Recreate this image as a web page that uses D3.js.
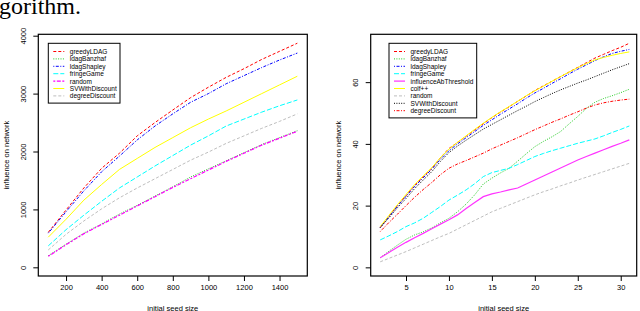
<!DOCTYPE html>
<html>
<head>
<meta charset="utf-8">
<script src="https://cdn.jsdelivr.net/npm/d3@7"></script>
<style>
body { margin:0; background:#fff; }
svg text { font-family: "Liberation Sans", Arial, sans-serif; fill:#000; }
</style>
</head>
<body>
<div id="chart"></div>
<script>
// left panel data
var seedLeft = [100,200,300,400,500,600,700,800,900,1000,1100,1200,1300,1400,1500];
var greedyLeft   = [604,990,1370,1710,1970,2270,2500,2717,2930,3110,3280,3430,3590,3730,3870];
var banzhafLeft  = [200,400,590,750,920,1070,1230,1390,1560,1700,1840,1980,2120,2240,2360];
var shapleyLeft  = [590,960,1320,1650,1920,2200,2440,2650,2850,3000,3170,3310,3450,3580,3700];
var fringeLeft   = [370,650,900,1140,1370,1560,1750,1930,2110,2270,2440,2560,2680,2790,2890];
var randomLeft   = [190,390,580,740,900,1060,1220,1380,1530,1680,1830,1970,2110,2230,2350];
var svDiscLeft   = [520,830,1160,1430,1690,1880,2070,2240,2410,2560,2700,2850,3000,3150,3300];
var degDiscLeft  = [300,570,800,1010,1200,1370,1530,1690,1850,1990,2140,2270,2400,2520,2650];
var xTicksLeft = [200,400,600,800,1000,1200,1400];
var yTicksLeft = [0,1000,2000,3000,4000];

// right panel data
var seedRight = [2,3,4,5,6,7,8,9,10,11,12,13,14,15,16,17,18,19,20,21,22,23,24,25,26,27,28,29,30,31];
var greedyRight  = [12.9,16.5,20,23.2,26.5,29.3,32,35.5,38.5,40.5,42.5,44.5,46.5,48.5,50.3,52,53.8,55.5,57.3,58.8,60.3,61.8,63.3,64.8,66.3,67.8,69,70.2,71.3,72.6];
var banzhafRight = [3.1,5.2,7.2,9.1,10.5,11.5,12.8,14.4,15.9,18,20.5,23.5,27,28.9,30.6,32.1,34.4,36.8,39.1,40.8,42.3,44,46.5,48.9,51.5,53.5,54.7,55.6,56.6,57.7];
var shapleyRight = [12.9,16.3,19.8,23,26.2,29,31.8,35,37.8,40,42,44,46,47.8,49.6,51.3,53,54.8,56.5,58,59.6,61.1,62.7,64.2,65.6,67,68.2,69.3,70,70.6];
var fringeRight  = [8.9,10.2,11.6,13.2,14.4,15.9,17.8,19.7,21.8,23.4,25.1,27.1,29.4,30.7,31.4,32.1,33.3,34.6,35.9,36.9,37.8,38.6,39.4,40.2,40.9,41.6,42.6,43.7,44.7,45.8];
var abThreshRight= [3.1,4.8,6.5,8.1,9.6,11,12.5,14,15.4,17,19.1,21,22.9,23.8,24.4,25.1,25.7,27,28.3,29.6,30.9,32.2,33.5,34.8,35.9,37,38.1,39.2,40.2,41.3];
var colfRight    = [13.2,16.8,20.3,23.6,26.8,29.6,32.3,35.5,38.3,40.5,42.6,44.7,46.7,48.6,50.4,52.1,53.8,55.6,57.2,58.7,60.3,61.8,63.3,64.7,66,67.2,68,68.7,69.3,69.8];
var randomRight  = [1.8,2.9,4,5.1,6.3,7.5,8.7,9.9,11,12.4,13.8,15.2,16.6,18,19.1,20.2,21.3,22.4,23.5,24.5,25.4,26.4,27.3,28.3,29.2,30.1,31,31.9,32.8,33.7];
var svDiscRight  = [12.9,16,19.3,22.3,25.5,28.3,31,34.3,37.2,39.3,41.2,43,44.8,46.3,47.8,49.3,50.8,52.2,53.7,55,56.3,57.5,58.6,59.7,60.7,61.8,62.9,64,65,66];
var degDiscRight = [11.6,14.5,17.2,20,22.7,25.2,27.5,30,32.1,33.5,34.6,35.8,37,38.4,39.6,40.8,42,43.3,44.6,45.8,47,48.1,49.3,50.4,51.6,52.6,53.3,53.8,54.2,54.5];
var xTicksRight = [5,10,15,20,25,30];
var yTicksRight = [0,20,40,60];

var dash = {solid:null, dashed:"3,2", dotted:"1,1.4", dotdash:"1,1.5,3,1.5", longdash:"5,2", twodash:"2,1.5,4,1.5"};

var svg = d3.select("#chart").append("svg")
  .attr("width", 640).attr("height", 311);

// caption fragment cut off at the top
svg.append("text")
  .attr("x", -1).attr("y", 14)
  .style("font-family", "'Liberation Serif', 'Times New Roman', serif")
  .style("font-size", "24px")
  .text("gorithm.");

function drawPanel(opt) {
  var x = d3.scaleLinear().domain(opt.xDomain).range([opt.left, opt.right]);
  var y = d3.scaleLinear().domain(opt.yDomain).range([opt.bottom, opt.top]);
  var g = svg.append("g");

  var line = d3.line().x((d, i) => x(opt.xs[i])).y(d => y(d));
  opt.series.forEach(function(s) {
    g.append("path")
      .attr("d", line(s.values))
      .attr("fill", "none")
      .attr("stroke", s.color)
      .attr("stroke-width", s.width || 1)
      .attr("stroke-dasharray", dash[s.style]);
  });

  g.append("rect")
    .attr("x", opt.left).attr("y", opt.top)
    .attr("width", opt.right - opt.left).attr("height", opt.bottom - opt.top)
    .attr("fill", "none").attr("stroke", "#000").attr("stroke-width", 1.2);

  var xAxis = g.append("g")
    .attr("transform", `translate(0, ${opt.bottom})`)
    .call(d3.axisBottom(x).tickValues(opt.xTicks).tickSize(5).tickPadding(4).tickFormat(d3.format("d")));
  xAxis.select(".domain").remove();
  xAxis.selectAll("text").style("font-size", "7.5px").style("font-family", "'Liberation Sans', Arial, sans-serif");

  var yAxis = g.append("g")
    .attr("transform", `translate(${opt.left}, 0)`)
    .call(d3.axisLeft(y).tickValues(opt.yTicks).tickSize(5).tickFormat(d3.format("d")));
  yAxis.select(".domain").remove();
  yAxis.selectAll("text")
    .attr("x", null).attr("dy", null)
    .attr("transform", "translate(-15,0) rotate(-90)")
    .attr("text-anchor", "middle")
    .attr("dominant-baseline", "central")
    .style("font-size", "7.5px").style("font-family", "'Liberation Sans', Arial, sans-serif");

  g.append("text")
    .attr("transform", `translate(${opt.left - 32}, ${(opt.top + opt.bottom) / 2}) rotate(-90)`)
    .attr("text-anchor", "middle")
    .attr("dominant-baseline", "central")
    .style("font-size", "7.5px")
    .text("influence on network");

  g.append("text")
    .attr("x", (opt.left + opt.right) / 2).attr("y", 311)
    .attr("text-anchor", "middle")
    .style("font-size", "7.5px")
    .text("initial seed size");

  // legend
  var lg = g.append("g");
  lg.append("rect")
    .attr("x", opt.legend.x).attr("y", opt.legend.y)
    .attr("width", opt.legend.w).attr("height", 8 + opt.series.length * 7.4)
    .attr("fill", "#fff").attr("stroke", "#000").attr("stroke-width", 1);
  opt.series.forEach(function(s, i) {
    var ly = opt.legend.y + 8.2 + i * 7.4;
    lg.append("line")
      .attr("x1", opt.legend.x + 5).attr("x2", opt.legend.x + 16)
      .attr("y1", ly).attr("y2", ly)
      .attr("stroke", s.color).attr("stroke-width", s.width || 1)
      .attr("stroke-dasharray", dash[s.style]);
    lg.append("text")
      .attr("x", opt.legend.x + 21.5).attr("y", ly)
      .attr("dominant-baseline", "central")
      .style("font-size", "6.5px")
      .text(s.name);
  });
}

drawPanel({
  left: 38.3, right: 307.3, top: 34.3, bottom: 276,
  xDomain: [44, 1556], yDomain: [-150, 4024],
  xs: seedLeft, xTicks: xTicksLeft, yTicks: yTicksLeft,
  legend: {x: 48.3, y: 43.3, w: 71.7},
  series: [
    {name: "greedyLDAG", values: greedyLeft, color: "#ff0000", style: "dashed"},
    {name: "ldagBanzhaf", values: banzhafLeft, color: "#22cc22", style: "dotted"},
    {name: "ldagShapley", values: shapleyLeft, color: "#0000ff", style: "dotdash"},
    {name: "fringeGame", values: fringeLeft, color: "#00ffff", style: "longdash"},
    {name: "random", values: randomLeft, color: "#ff00ff", style: "twodash", width: 1.2},
    {name: "SVWithDiscount", values: svDiscLeft, color: "#ffff00", style: "solid"},
    {name: "degreeDiscount", values: degDiscLeft, color: "#bebebe", style: "dashed"}
  ]
});

drawPanel({
  left: 370.7, right: 636.7, top: 34.3, bottom: 276,
  xDomain: [0.89, 31.86], yDomain: [-2.8, 75.5],
  xs: seedRight, xTicks: xTicksRight, yTicks: yTicksRight,
  legend: {x: 389, y: 43.3, w: 87.7},
  series: [
    {name: "greedyLDAG", values: greedyRight, color: "#ff0000", style: "dashed"},
    {name: "ldagBanzhaf", values: banzhafRight, color: "#22cc22", style: "dotted"},
    {name: "ldagShapley", values: shapleyRight, color: "#0000ff", style: "dotdash"},
    {name: "fringeGame", values: fringeRight, color: "#00ffff", style: "longdash"},
    {name: "influenceAbThreshold", values: abThreshRight, color: "#ff33ff", style: "solid", width: 1.2},
    {name: "colf++", values: colfRight, color: "#ffff00", style: "solid"},
    {name: "random", values: randomRight, color: "#bebebe", style: "dashed"},
    {name: "SVWithDiscount", values: svDiscRight, color: "#000000", style: "dotted"},
    {name: "degreeDiscount", values: degDiscRight, color: "#ff0000", style: "dotdash"}
  ]
});
</script>
</body>
</html>
